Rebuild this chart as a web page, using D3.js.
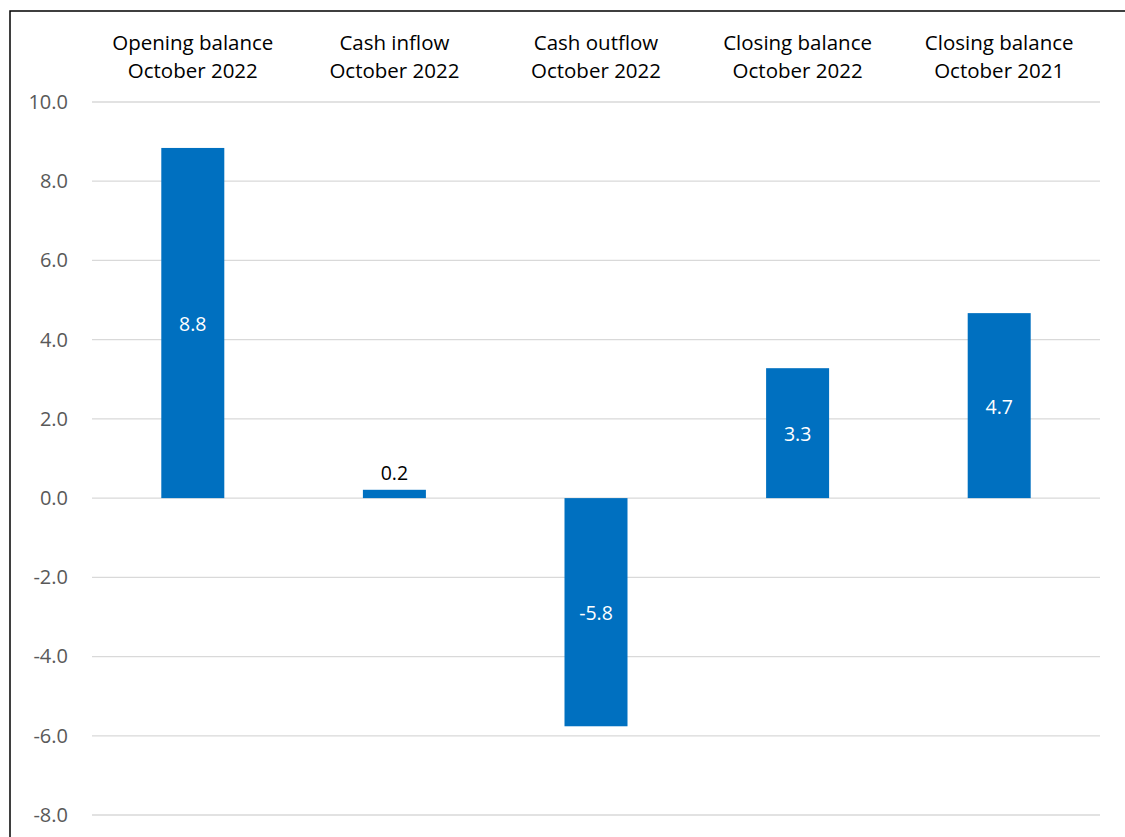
<!DOCTYPE html>
<html>
<head>
<meta charset="utf-8">
<script src="https://cdn.jsdelivr.net/npm/d3@7"></script>
<style>
  body { margin: 0; background: #fff; }
  svg { display: block; font-family: "Open Sans", "Noto Sans", sans-serif; }
</style>
</head>
<body>
<div id="chart"></div>
<script>
const svgWidth = 1125;
const svgHeight = 837;

const categories = [
    ['Opening balance', 'October 2022'],
    ['Cash inflow', 'October 2022'],
    ['Cash outflow', 'October 2022'],
    ['Closing balance', 'October 2022'],
    ['Closing balance', 'October 2021']
];
const values = [8.84, 0.21, -5.76, 3.28, 4.67];
const labels = ['8.8', '0.2', '-5.8', '3.3', '4.7'];
const yTicks = [10, 8, 6, 4, 2, 0, -2, -4, -6, -8];

const chartMargin = { top: 102, right: 25, bottom: 22, left: 92 };

const svg = d3.select('#chart')
    .append('svg')
    .attr('width', svgWidth)
    .attr('height', svgHeight);

// outer frame (runs off the right and bottom edges)
svg.append('rect')
    .attr('x', 10).attr('y', 11)
    .attr('width', svgWidth + 20).attr('height', svgHeight + 20)
    .attr('fill', 'none')
    .attr('stroke', '#000')
    .attr('stroke-width', 1.5);

const x = d3.scaleBand()
    .domain(d3.range(categories.length))
    .range([chartMargin.left, svgWidth - chartMargin.right])
    .paddingInner(0.6875)
    .paddingOuter(0.34375);

const y = d3.scaleLinear()
    .domain([-8, 10])
    .range([svgHeight - chartMargin.bottom, chartMargin.top]);

// gridlines
svg.append('g')
    .selectAll('line')
    .data(yTicks)
    .join('line')
    .attr('x1', chartMargin.left)
    .attr('x2', svgWidth - chartMargin.right)
    .attr('y1', d => y(d))
    .attr('y2', d => y(d))
    .attr('stroke', '#d9d9d9')
    .attr('stroke-width', 1.3);

// y axis labels (plain hyphen for negatives, like the original)
const yAxis = svg.append('g')
    .attr('transform', `translate(${chartMargin.left - 24},0)`)
    .call(d3.axisLeft(y).tickValues(yTicks).tickSize(0).tickPadding(0)
        .tickFormat(d => d.toFixed(1)));
yAxis.select('.domain').remove();
yAxis.selectAll('text')
    .attr('fill', '#595959')
    .style('font-size', '20px')
    .style('font-family', '"Open Sans", sans-serif');

// bars
svg.append('g')
    .selectAll('rect')
    .data(values)
    .join('rect')
    .attr('x', (d, i) => x(i))
    .attr('width', x.bandwidth())
    .attr('y', d => y(Math.max(0, d)))
    .attr('height', d => Math.abs(y(d) - y(0)))
    .attr('fill', '#0070c0');

// value labels
svg.append('g')
    .selectAll('text')
    .data(values)
    .join('text')
    .attr('x', (d, i) => x(i) + x.bandwidth() / 2)
    .attr('y', d => Math.abs(d) < 1 ? y(d) - 10 : (y(d) + y(0)) / 2 + 8)
    .attr('text-anchor', 'middle')
    .attr('fill', d => Math.abs(d) < 1 ? '#000' : '#fff')
    .style('font-size', '19.5px')
    .text((d, i) => labels[i]);

// category labels at top
const cat = svg.append('g')
    .selectAll('text')
    .data(categories)
    .join('text')
    .attr('text-anchor', 'middle')
    .attr('fill', '#000')
    .style('font-size', '20.5px');
cat.selectAll('tspan')
    .data((d, i) => d.map(t => ({ t, i })))
    .join('tspan')
    .attr('x', d => x(d.i) + x.bandwidth() / 2)
    .attr('y', (d, j) => 50 + j * 28)
    .text(d => d.t);
</script>
</body>
</html>
